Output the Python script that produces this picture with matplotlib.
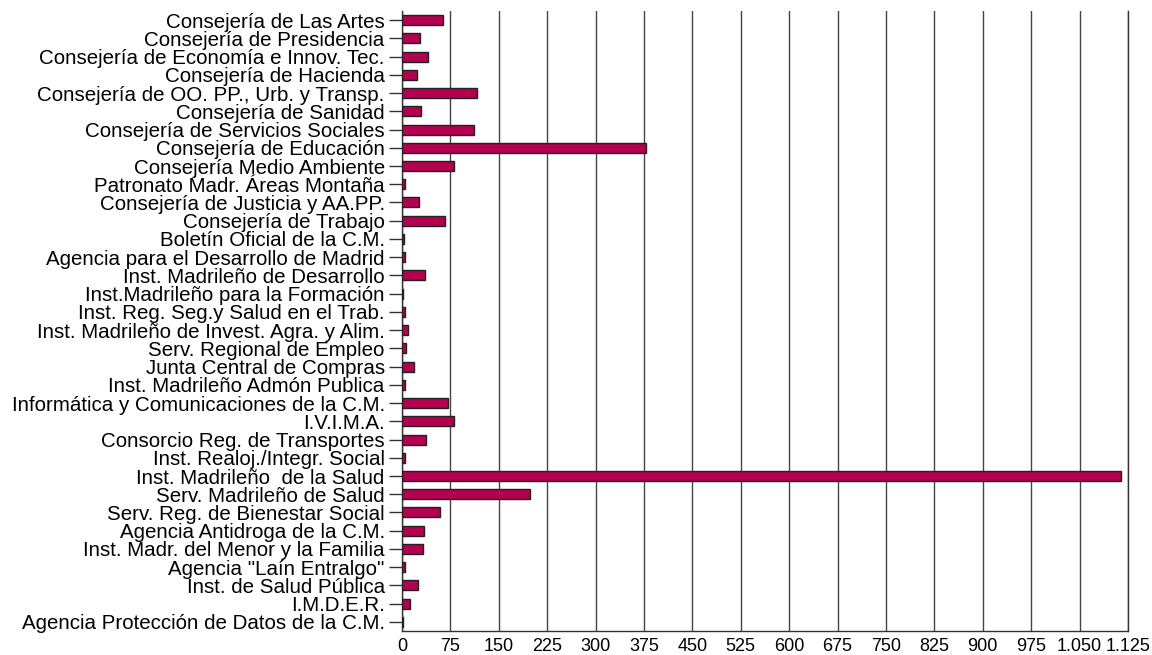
import matplotlib
matplotlib.use("Agg")
from matplotlib import pyplot as plt
from matplotlib.ticker import FuncFormatter, MultipleLocator

labels = [
    "Consejería de Las Artes",
    "Consejería de Presidencia",
    "Consejería de Economía e Innov. Tec.",
    "Consejería de Hacienda",
    "Consejería de OO. PP., Urb. y Transp.",
    "Consejería de Sanidad",
    "Consejería de Servicios Sociales",
    "Consejería de Educación",
    "Consejería Medio Ambiente",
    "Patronato Madr. Áreas Montaña",
    "Consejería de Justicia y AA.PP.",
    "Consejería de Trabajo",
    "Boletín Oficial de la C.M.",
    "Agencia para el Desarrollo de Madrid",
    "Inst. Madrileño de Desarrollo",
    "Inst.Madrileño para la Formación",
    "Inst. Reg. Seg.y Salud en el Trab.",
    "Inst. Madrileño de Invest. Agra. y Alim.",
    "Serv. Regional de Empleo",
    "Junta Central de Compras",
    "Inst. Madrileño Admón Publica",
    "Informática y Comunicaciones de la C.M.",
    "I.V.I.M.A.",
    "Consorcio Reg. de Transportes",
    "Inst. Realoj./Integr. Social",
    "Inst. Madrileño  de la Salud",
    "Serv. Madrileño de Salud",
    "Serv. Reg. de Bienestar Social",
    "Agencia Antidroga de la C.M.",
    "Inst. Madr. del Menor y la Familia",
    "Agencia \"Laín Entralgo\"",
    "Inst. de Salud Pública",
    "I.M.D.E.R.",
    "Agencia Protección de Datos de la C.M.",
]
values = [64, 28, 41, 23, 116, 30, 112, 378, 80, 4, 26, 67, 3, 4, 35, 1.5,
          4, 10, 6, 18, 5, 71, 80, 37, 4, 1114, 199, 59, 34, 33, 4, 25, 13, 2]

plt.rcParams['font.family'] = ['Liberation Sans', 'DejaVu Sans']

fig = plt.figure(figsize=(11.52, 6.55), dpi=100)
ax = fig.add_axes([402/1152, 24/655, 726/1152, 620/655])

pos = list(range(len(labels)))
ax.barh(pos, values, height=0.55, color='#B3004F', edgecolor='#222222', linewidth=1, zorder=3)

ax.set_ylim(len(labels) - 0.5, -0.5)
ax.set_xlim(0, 1125)
ax.set_yticks(pos)
ax.set_yticklabels(labels, fontsize=14.8)
ax.xaxis.set_major_locator(MultipleLocator(75))
ax.xaxis.set_major_formatter(FuncFormatter(lambda x, _: '{:,.0f}'.format(x).replace(',', '.')))
ax.tick_params(axis='x', length=0, labelsize=13, pad=5)
ax.tick_params(axis='y', length=9.5, width=1, color='#333333', pad=3)
ax.grid(axis='x', color='#444444', linewidth=1, zorder=0)
ax.spines['top'].set_visible(False)
for s in ['left', 'bottom', 'right']:
    ax.spines[s].set_color('#333333')
    ax.spines[s].set_linewidth(1)

fig.savefig("out.png", dpi=100)
